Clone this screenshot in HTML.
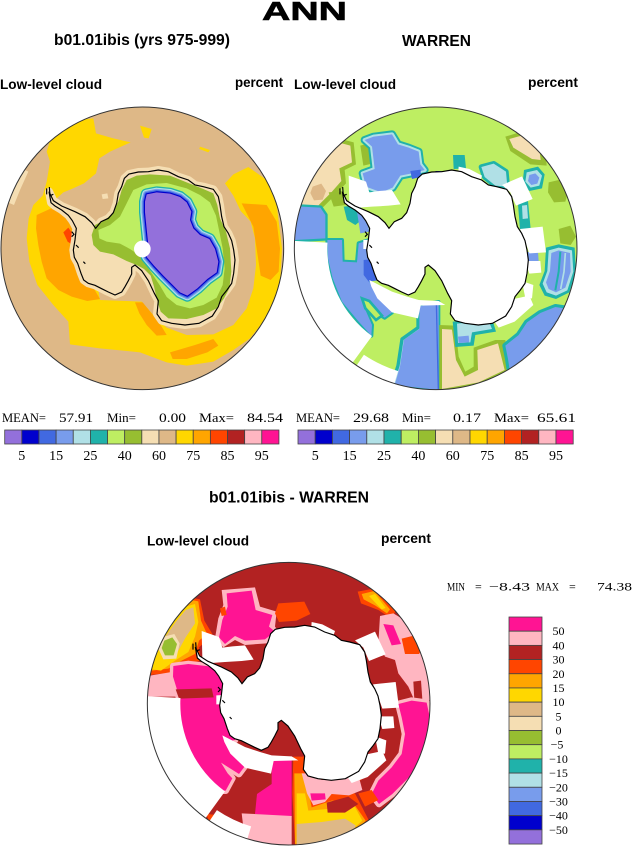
<!DOCTYPE html>
<html><head><meta charset="utf-8"><style>html,body{margin:0;padding:0;background:#fff;}svg{display:block;}</style></head>
<body>
<svg width="632" height="848" viewBox="0 0 632 848" xmlns="http://www.w3.org/2000/svg">
<defs>
<path id="coast" d="M147,260 L160,287 L185,303 L225,320 L255,335 L275,353 L287,370 L303,350 L325,340 L340,323 L350,295 L355,265 L365,245 L373,220 L387,207 L415,201 L445,200 L475,195 L505,200 L535,215 L565,225 L585,240 L610,245 L640,253 L655,275 L660,300 L665,335 L672,365 L685,385 L695,407 L701,435 L705,465 L701,505 L695,535 L681,555 L665,575 L655,605 L637,633 L597,655 L555,660 L515,655 L485,647 L471,627 L475,587 L463,565 L445,527 L425,497 L405,480 L395,487 L395,507 L385,527 L375,545 L365,561 L345,570 L325,561 L305,551 L285,541 L265,535 L251,525 L243,505 L233,475 L223,457 L220,435 L225,405 L229,370 L217,347 L205,331 L185,315 L165,303 L153,293 Z"/>
<path id="isl" d="M140,250 L140,268 M148,246 L150,272 L160,268 M215,380 L222,388 L215,395 M228,420 L236,428 M250,470 L256,476"/>
<polygon id="pur" points="440,268 470,262 510,266 540,276 560,292 574,320 570,345 580,370 600,390 628,402 645,432 655,470 650,502 622,522 592,550 562,572 540,562 520,542 490,512 462,482 440,456 445,420 440,372 435,322 435,290"/>
<clipPath id="cL"><circle cx="427" cy="430" r="424"/></clipPath>
<clipPath id="cR"><circle cx="431" cy="430" r="424"/></clipPath>
<clipPath id="cB"><circle cx="431" cy="431" r="424"/></clipPath>
<g id="wm">
<path d="M106.4,413 L1.6,407.5 A430,430 0 0 0 178.3,777.9 L240,693 A325,325 0 0 1 106.4,413 Z"/>
<path d="M215.7,749.2 L190.5,786.5 A430,430 0 0 0 305.3,841.2 L318.4,798.2 A385,385 0 0 1 215.7,749.2 Z"/>
<polygon points="170,212 222,230 232,262 262,258 300,255 326,298 290,302 240,305 200,308 172,292"/>
<polygon points="500,185 532,192 570,212 562,236 520,226 498,214"/>
<polygon points="630,240 690,214 722,282 672,302 655,262"/>
<polygon points="684,372 752,365 762,442 712,445 700,410"/>
<polygon points="700,468 745,468 748,503 712,506"/>
<polygon points="690,528 724,540 720,580 700,580"/>
<polygon points="590,598 712,572 724,600 668,650 620,668 600,640"/>
<polygon points="214,405 274,402 274,432 214,432"/>
<polygon points="232,525 300,560 345,575 380,585 440,588 460,600 386,602 378,640 300,622 256,580 238,545"/>
<use href="#coast" transform="translate(4,0)"/>
</g>
</defs>

<!-- Titles -->
<g font-family="'Liberation Sans', Arial, sans-serif" font-weight="bold" fill="#000">
<text x="262" y="20" font-size="26" textLength="85" lengthAdjust="spacingAndGlyphs" stroke="#000" stroke-width="0.6">ANN</text>
<text x="54" y="45" font-size="16" textLength="176" lengthAdjust="spacingAndGlyphs">b01.01ibis (yrs 975-999)</text>
<text x="402" y="46" font-size="16" textLength="69" lengthAdjust="spacingAndGlyphs">WARREN</text>
<text x="0" y="89" font-size="14" textLength="102" lengthAdjust="spacingAndGlyphs">Low-level cloud</text>
<text x="235" y="87" font-size="14" textLength="48" lengthAdjust="spacingAndGlyphs">percent</text>
<text x="294" y="89" font-size="14" textLength="102" lengthAdjust="spacingAndGlyphs">Low-level cloud</text>
<text x="528" y="87" font-size="14" textLength="50" lengthAdjust="spacingAndGlyphs">percent</text>
<text x="209" y="502.5" font-size="16" textLength="160" lengthAdjust="spacingAndGlyphs">b01.01ibis - WARREN</text>
<text x="147" y="545.5" font-size="14" textLength="102" lengthAdjust="spacingAndGlyphs">Low-level cloud</text>
<text x="381" y="543" font-size="14" textLength="50" lengthAdjust="spacingAndGlyphs">percent</text>
</g>

<!-- LEFT MAP -->
<g transform="translate(0,105) scale(0.333333)">
<g clip-path="url(#cL)">
<rect x="0" y="0" width="860" height="860" fill="#DEB887"/>
<polygon fill="#F5DEB3" points="18,290 35,230 65,190 85,200 60,255 42,300"/>
<polygon fill="#FFD700" points="150,108 238,45 280,40 288,85 340,100 392,112 330,140 298,160 288,205 252,235 215,252 190,262 170,280 185,320 212,345 228,380 232,430 240,470 255,505 270,532 295,555 300,585 380,588 425,590 460,630 500,668 560,690 640,688 700,660 740,610 760,550 768,480 765,400 752,350 722,318 700,272 675,235 700,208 745,186 800,225 830,300 846,430 840,540 820,600 790,650 750,700 700,735 640,770 560,782 500,772 420,742 300,730 210,718 205,650 160,600 112,540 88,470 80,400 86,340 100,300 128,272 140,230 150,170 140,140"/>
<polygon fill="#FFD700" points="420,62 455,72 446,100 432,98"/>
<polygon fill="#FFD700" points="600,125 630,135 625,142 598,132"/>
<polygon fill="#F5DEB3" points="305,268 322,265 325,280 308,282"/>
<polygon fill="#FFA500" points="110,330 165,305 200,322 215,360 222,420 232,470 250,505 280,548 300,582 262,588 215,575 175,555 140,520 125,470 115,420 108,370"/>
<polygon fill="#FF4500" points="190,382 205,368 222,392 215,418 203,410"/>
<polygon fill="#FFA500" points="405,592 428,592 455,625 485,665 500,690 470,692 440,660 418,625"/>
<polygon fill="#FFA500" points="510,742 585,720 640,702 655,722 622,742 560,762 518,762"/>
<polygon fill="#FFA500" points="725,295 800,300 830,350 840,430 836,500 812,525 782,512 772,445 760,365"/>
<use href="#coast" fill="#F5DEB3" stroke="#F5DEB3" stroke-width="24" stroke-linejoin="round"/>
<polygon fill="#97BE31" points="285,360 315,345 340,323 355,290 365,255 380,225 410,212 450,208 510,212 560,232 610,252 640,265 652,300 660,340 678,380 690,430 694,500 688,550 672,580 650,610 610,630 560,642 505,640 482,620 472,588 462,545 452,512 432,492 410,480 380,468 340,448 300,440 280,420 275,390"/>
<polygon fill="#BEEE62" points="295,375 330,360 360,335 380,295 400,255 440,238 500,234 560,250 600,270 630,292 648,332 658,380 668,430 674,490 668,540 650,578 610,600 570,610 530,600 500,576 480,542 460,512 440,482 420,452 390,432 360,416 320,410 298,400"/>
<use href="#pur" fill="#20B2AA" stroke="#20B2AA" stroke-width="36" stroke-linejoin="round"/>
<use href="#pur" fill="#B0E0E6" stroke="#B0E0E6" stroke-width="28" stroke-linejoin="round"/>
<use href="#pur" fill="#789CEC" stroke="#789CEC" stroke-width="21" stroke-linejoin="round"/>
<use href="#pur" fill="#4169E1" stroke="#4169E1" stroke-width="14" stroke-linejoin="round"/>
<use href="#pur" fill="#0000CD" stroke="#0000CD" stroke-width="7" stroke-linejoin="round"/>
<use href="#pur" fill="#9370DB"/>
<circle cx="427" cy="432" r="25" fill="#fff"/>
<use href="#coast" fill="none" stroke="#000" stroke-width="3.5"/>
<use href="#isl" fill="none" stroke="#000" stroke-width="3.5"/>
</g>
<circle cx="427" cy="430" r="424" fill="none" stroke="#333" stroke-width="3"/>
</g>

<!-- RIGHT MAP -->
<g transform="translate(292,105) scale(0.333333)">
<g clip-path="url(#cR)">
<rect x="0" y="0" width="860" height="860" fill="#BEEE62"/>
<polygon fill="#97BE31" points="140,100 185,112 192,178 158,195 162,235 128,272 92,308 50,358 8,360 12,280 50,190 100,128"/>
<polygon fill="#F5DEB3" points="150,115 175,122 180,172 142,190 148,228 118,262 82,298 45,345 15,345 22,280 58,200 105,140"/>
<polygon fill="#DEB887" points="62,245 88,236 102,258 92,284 66,286 55,264"/>
<polygon fill="#97BE31" points="110,262 148,258 160,300 125,305"/>
<polygon fill="#97BE31" points="205,122 230,115 240,176 214,182"/>
<polygon fill="#97BE31" points="640,95 705,75 760,122 764,182 715,178 655,138"/>
<polygon fill="#F5DEB3" points="652,102 702,88 742,130 746,165 720,162 664,128"/>
<polygon fill="#97BE31" points="770,232 800,225 830,255 820,290 786,292 768,262"/>
<polygon fill="#97BE31" points="800,372 835,362 852,395 836,420 805,415"/>
<g stroke-linejoin="round">
<polygon fill="#20B2AA" stroke="#20B2AA" stroke-width="24" points="218,105 245,95 300,88 318,118 350,128 380,140 385,178 398,195 360,205 325,212 302,248 268,262 222,245 212,205 248,192 240,125"/>
<polygon fill="#B0E0E6" stroke="#B0E0E6" stroke-width="12" points="218,105 245,95 300,88 318,118 350,128 380,140 385,178 398,195 360,205 325,212 302,248 268,262 222,245 212,205 248,192 240,125"/>
<polygon fill="#789CEC" points="218,105 245,95 300,88 318,118 350,128 380,140 385,178 398,195 360,205 325,212 302,248 268,262 222,245 212,205 248,192 240,125"/>
</g>
<polygon fill="#4169E1" points="355,198 386,194 386,216 360,222"/>
<polygon fill="#0000CD" points="430,198 497,200 500,216 440,212"/>
<polygon fill="#20B2AA" points="483,150 518,150 522,190 485,192"/>
<polygon fill="#20B2AA" stroke="#20B2AA" stroke-width="16" stroke-linejoin="round" points="568,186 605,176 642,200 646,245 610,242 578,216"/>
<polygon fill="#B0E0E6" points="568,186 605,176 642,200 646,245 610,242 578,216"/>
<polygon fill="#4169E1" points="590,252 610,252 612,278 592,278"/>
<polygon fill="#9370DB" points="594,264 606,264 608,278 596,278"/>
<polygon fill="#20B2AA" points="696,195 738,185 758,208 750,250 712,258 692,232"/>
<polygon fill="#B0E0E6" points="704,202 735,195 750,212 742,242 716,248 700,230"/>
<polygon fill="#789CEC" points="712,210 730,205 742,218 736,236 718,240 708,228"/>
<polygon fill="#20B2AA" points="678,298 708,288 716,372 684,374"/>
<polygon fill="#B0E0E6" points="690,302 705,300 708,340 692,342"/>
<polygon fill="#20B2AA" stroke="#20B2AA" stroke-width="14" stroke-linejoin="round" points="8,352 28,305 85,308 100,330 100,400 8,405"/>
<polygon fill="#789CEC" points="8,352 28,305 85,308 100,330 100,400 8,405"/>
<polygon fill="#20B2AA" points="155,305 205,300 215,340 190,360 165,345"/>
<polygon fill="#789CEC" points="195,320 222,330 232,380 205,385"/>
<polygon fill="#20B2AA" stroke="#20B2AA" stroke-width="12" stroke-linejoin="round" points="106,405 150,405 152,470 195,472 200,415 232,405 232,530 300,622 278,638 212,596 240,660 238,692 200,650 150,590 122,520 108,460"/>
<polygon fill="#789CEC" points="106,405 150,405 152,470 195,472 200,415 232,405 232,530 300,622 278,638 212,596 240,660 238,692 200,650 150,590 122,520 108,460"/>
<polygon fill="#BEEE62" stroke="#20B2AA" stroke-width="8" points="210,580 232,588 270,632 252,645 220,610"/>
<polygon fill="#4169E1" points="215,465 262,460 265,525 230,530 215,510"/>
<polygon fill="#0000CD" points="268,470 290,475 292,510 270,505"/>
<polygon fill="#B0E0E6" stroke="#20B2AA" stroke-width="10" stroke-linejoin="round" points="378,600 440,590 440,855 300,838 318,782 330,702 378,668"/>
<polygon fill="#789CEC" points="382,604 440,594 440,855 308,840 324,784 336,704 382,672"/>
<line x1="433" y1="590" x2="439" y2="855" stroke="#4169E1" stroke-width="4"/>
<polygon fill="#97BE31" points="442,660 490,662 500,755 520,800 545,785 545,728 610,705 640,705 652,800 560,842 442,858"/>
<polygon fill="#F5DEB3" points="450,672 480,674 492,765 518,815 558,795 556,735 618,715 638,795 560,832 450,852"/>
<polygon fill="#20B2AA" points="482,650 600,640 612,680 550,690 545,722 490,726"/>
<polygon fill="#B0E0E6" points="495,656 590,648 600,672 540,682 535,712 498,714"/>
<polygon fill="#789CEC" points="498,695 530,692 532,712 500,714"/>
<polygon fill="#20B2AA" stroke="#20B2AA" stroke-width="18" stroke-linejoin="round" points="640,722 680,690 705,652 745,624 790,606 830,612 846,625 812,702 760,764 700,804 656,814 648,762"/>
<polygon fill="#789CEC" points="640,722 680,690 705,652 745,624 790,606 830,612 846,625 812,702 760,764 700,804 656,814 648,762"/>
<polygon fill="#20B2AA" points="762,428 800,418 848,428 852,500 832,562 792,582 758,572 742,540 758,498"/>
<polygon fill="#B0E0E6" points="770,436 800,428 840,436 844,500 826,556 792,572 764,562 752,536 766,498"/>
<polygon fill="#789CEC" points="778,444 800,436 834,444 836,500 820,548 792,562 770,552 762,532 774,498"/>
<polyline fill="none" stroke="#20B2AA" stroke-width="6" points="805,440 800,500 790,556"/>
<polyline fill="none" stroke="#B0E0E6" stroke-width="5" points="820,444 816,500 806,552"/>
<polygon fill="#789CEC" points="688,442 738,440 740,470 690,470"/>
<use href="#wm" fill="#fff"/>
<use href="#coast" transform="translate(4,0)" fill="none" stroke="#000" stroke-width="3.5"/>
<use href="#isl" transform="translate(4,0)" fill="none" stroke="#000" stroke-width="3.5"/>
</g>
<circle cx="431" cy="430" r="424" fill="none" stroke="#333" stroke-width="3"/>
</g>

<!-- BOTTOM MAP -->
<g transform="translate(145,560) scale(0.333333)">
<g clip-path="url(#cB)">
<rect x="0" y="0" width="860" height="870" fill="#B22222"/>
<polygon fill="#FF4500" points="135,112 165,118 178,182 202,222 182,244 162,262 168,302 122,312 82,338 12,345 20,270 58,200 108,140"/>
<polygon fill="#FFA500" points="140,120 160,124 168,182 186,222 162,242 150,282 110,302 70,326 20,332 28,270 64,206 114,146"/>
<polygon fill="#FFD700" points="122,140 150,132 160,186 150,230 130,276 90,302 48,332 22,328 30,270 60,210 96,166"/>
<polygon fill="#DEB887" points="122,150 145,142 150,190 122,232 100,272 62,288 44,272 60,232 92,186"/>
<polygon fill="#F5DEB3" points="48,232 88,222 104,250 94,296 55,298 40,266"/>
<polygon fill="#97BE31" points="58,242 82,232 96,252 86,286 60,286 50,264"/>
<polygon fill="#FFB6C1" points="8,348 80,336 96,380 100,410 8,410"/>
<g stroke-linejoin="round">
<polygon fill="#FFB6C1" stroke="#FFB6C1" stroke-width="20" points="85,318 130,312 200,320 218,345 248,370 252,420 268,470 270,540 245,545 300,618 282,642 228,608 248,640 262,655 242,692 208,692 168,642 128,572 108,500 104,420 94,382 84,350"/>
<polygon fill="#FF1493" points="85,318 130,312 200,320 218,345 248,370 252,420 268,470 270,540 245,545 300,618 282,642 228,608 248,640 262,655 242,692 208,692 168,642 128,572 108,500 104,420 94,382 84,350"/>
<polygon fill="#B22222" points="92,388 200,385 206,412 102,416"/>
<polygon fill="#FFB6C1" points="230,90 330,82 345,140 395,155 390,200 405,220 365,250 300,255 270,240 235,262 210,235 220,175 235,135"/>
<polygon fill="#FF1493" points="245,100 320,92 332,150 382,165 372,200 390,215 360,238 300,242 270,228 240,252 222,232 232,180 248,140"/>
</g>
<polygon fill="#FF4500" points="400,130 478,125 496,162 455,182 402,186 390,160"/>
<polygon fill="#FF4500" points="225,145 240,140 245,165 230,168"/>
<polygon fill="#FF4500" points="638,95 690,85 752,150 742,178 700,150 648,130"/>
<polygon fill="#FFA500" points="650,102 688,93 735,148 726,160 690,136 656,118"/>
<polygon fill="#FFD700" points="672,108 690,102 722,144 710,148"/>
<polygon fill="#FFB6C1" points="705,168 745,160 775,178 800,220 840,250 852,300 856,420 810,425 790,380 760,340 750,300 720,290 700,250"/>
<polygon fill="#FF1493" points="715,192 745,196 768,252 740,256"/>
<polygon fill="#FF4500" points="770,236 810,226 836,260 822,282 780,282"/>
<polygon fill="#B22222" points="805,365 828,362 832,418 808,420"/>
<polygon fill="#FFB6C1" stroke="#FFB6C1" stroke-width="20" stroke-linejoin="round" points="760,432 800,422 845,428 856,480 842,560 822,622 782,662 742,702 702,732 680,702 700,662 740,622 770,582 780,522 770,472"/>
<polygon fill="#FF1493" points="760,432 800,422 845,428 856,480 842,560 822,622 782,662 742,702 702,732 680,702 700,662 740,622 770,582 780,522 770,472"/>
<polygon fill="#FF4500" points="640,700 680,690 700,720 660,740"/>
<polygon fill="#FF4500" points="600,640 640,630 650,660 610,670"/>
<polygon fill="#FF4500" points="445,590 480,590 500,650 540,662 560,700 630,700 672,782 642,822 450,856 442,700"/>
<polygon fill="#FFA500" points="448,640 475,640 490,690 500,742 560,722 620,722 662,782 632,815 450,852"/>
<polygon fill="#FFD700" points="455,700 480,700 490,752 560,746 625,732 652,782 626,806 455,850"/>
<polygon fill="#DEB887" points="455,792 530,786 600,776 632,796 620,832 540,852 455,856"/>
<polygon fill="#FFB6C1" points="470,640 512,640 530,660 600,650 642,652 652,690 612,706 560,702 540,726 505,736 486,700"/>
<polygon fill="#B22222" points="545,728 610,710 640,732 600,758 548,758"/>
<polygon fill="#FF1493" points="496,700 540,700 542,718 500,722"/>
<polygon fill="#FF1493" points="380,592 440,590 440,772 330,762 336,702 380,672"/>
<polygon fill="#FFB6C1" points="290,760 440,768 440,858 300,842"/>
<polygon fill="#FF4500" points="185,762 230,766 226,782 190,780"/>
<g transform="translate(0,1)"><use href="#wm" fill="#fff"/></g>
<use href="#coast" transform="translate(4,1)" fill="none" stroke="#000" stroke-width="3.5"/>
<use href="#isl" transform="translate(4,1)" fill="none" stroke="#000" stroke-width="3.5"/>
</g>
<circle cx="431" cy="431" r="424" fill="none" stroke="#333" stroke-width="3"/>
</g>

<!-- Stats text -->
<g font-family="'Liberation Serif', 'Times New Roman', serif" font-size="13" fill="#000">
<text x="2" y="422" textLength="44" lengthAdjust="spacingAndGlyphs">MEAN=</text>
<text x="59" y="422" textLength="34" lengthAdjust="spacingAndGlyphs">57.91</text>
<text x="107" y="422">Min=</text>
<text x="159" y="422" textLength="27" lengthAdjust="spacingAndGlyphs">0.00</text>
<text x="199" y="422" textLength="35" lengthAdjust="spacingAndGlyphs">Max=</text>
<text x="247" y="422" textLength="36" lengthAdjust="spacingAndGlyphs">84.54</text>
<text x="296" y="422" textLength="44" lengthAdjust="spacingAndGlyphs">MEAN=</text>
<text x="353" y="422" textLength="36" lengthAdjust="spacingAndGlyphs">29.68</text>
<text x="402" y="422">Min=</text>
<text x="453" y="422" textLength="28" lengthAdjust="spacingAndGlyphs">0.17</text>
<text x="494" y="422" textLength="35" lengthAdjust="spacingAndGlyphs">Max=</text>
<text x="537" y="422" textLength="39" lengthAdjust="spacingAndGlyphs">65.61</text>
</g>
<g font-family="'Liberation Serif', 'Times New Roman', serif" font-size="12" fill="#000">
<text x="447" y="590.5" textLength="18" lengthAdjust="spacingAndGlyphs">MIN</text>
<text x="475" y="590.5">=</text>
<text x="489" y="590.5" textLength="41" lengthAdjust="spacingAndGlyphs">−8.43</text>
<text x="536" y="590.5" textLength="23" lengthAdjust="spacingAndGlyphs">MAX</text>
<text x="569" y="590.5">=</text>
<text x="597" y="590.5" textLength="35" lengthAdjust="spacingAndGlyphs">74.38</text>
</g>

<!-- Left colorbar -->
<g stroke="#444" stroke-width="0.8">
<rect x="4.7" y="430" width="17.14" height="14" fill="#9370DB"/>
<rect x="21.84" y="430" width="17.14" height="14" fill="#0000CD"/>
<rect x="38.98" y="430" width="17.14" height="14" fill="#4169E1"/>
<rect x="56.12" y="430" width="17.14" height="14" fill="#789CEC"/>
<rect x="73.26" y="430" width="17.14" height="14" fill="#B0E0E6"/>
<rect x="90.4" y="430" width="17.14" height="14" fill="#20B2AA"/>
<rect x="107.54" y="430" width="17.14" height="14" fill="#BEEE62"/>
<rect x="124.68" y="430" width="17.14" height="14" fill="#97BE31"/>
<rect x="141.82" y="430" width="17.14" height="14" fill="#F5DEB3"/>
<rect x="158.96" y="430" width="17.14" height="14" fill="#DEB887"/>
<rect x="176.1" y="430" width="17.14" height="14" fill="#FFD700"/>
<rect x="193.24" y="430" width="17.14" height="14" fill="#FFA500"/>
<rect x="210.38" y="430" width="17.14" height="14" fill="#FF4500"/>
<rect x="227.52" y="430" width="17.14" height="14" fill="#B22222"/>
<rect x="244.66" y="430" width="17.14" height="14" fill="#FFB6C1"/>
<rect x="261.8" y="430" width="17.14" height="14" fill="#FF1493"/>
</g>
<g stroke="#444" stroke-width="0.8">
<rect x="298" y="430" width="17.2" height="14" fill="#9370DB"/>
<rect x="315.2" y="430" width="17.2" height="14" fill="#0000CD"/>
<rect x="332.4" y="430" width="17.2" height="14" fill="#4169E1"/>
<rect x="349.6" y="430" width="17.2" height="14" fill="#789CEC"/>
<rect x="366.8" y="430" width="17.2" height="14" fill="#B0E0E6"/>
<rect x="384" y="430" width="17.2" height="14" fill="#20B2AA"/>
<rect x="401.2" y="430" width="17.2" height="14" fill="#BEEE62"/>
<rect x="418.4" y="430" width="17.2" height="14" fill="#97BE31"/>
<rect x="435.6" y="430" width="17.2" height="14" fill="#F5DEB3"/>
<rect x="452.8" y="430" width="17.2" height="14" fill="#DEB887"/>
<rect x="470" y="430" width="17.2" height="14" fill="#FFD700"/>
<rect x="487.2" y="430" width="17.2" height="14" fill="#FFA500"/>
<rect x="504.4" y="430" width="17.2" height="14" fill="#FF4500"/>
<rect x="521.6" y="430" width="17.2" height="14" fill="#B22222"/>
<rect x="538.8" y="430" width="17.2" height="14" fill="#FFB6C1"/>
<rect x="556" y="430" width="17.2" height="14" fill="#FF1493"/>
</g>
<g font-family="'Liberation Serif', 'Times New Roman', serif" font-size="14" fill="#000" text-anchor="middle">
<text x="21.8" y="460">5</text><text x="56.1" y="460">15</text><text x="90.4" y="460">25</text><text x="124.7" y="460">40</text>
<text x="159" y="460">60</text><text x="193.2" y="460">75</text><text x="227.5" y="460">85</text><text x="261.8" y="460">95</text>
<text x="315.2" y="460">5</text><text x="349.6" y="460">15</text><text x="384" y="460">25</text><text x="418.4" y="460">40</text>
<text x="452.8" y="460">60</text><text x="487.2" y="460">75</text><text x="521.6" y="460">85</text><text x="556" y="460">95</text>
</g>

<!-- Bottom colorbar -->
<g stroke="#444" stroke-width="0.8">
<rect x="509" y="617" width="33" height="14.19" fill="#FF1493"/>
<rect x="509" y="631.19" width="33" height="14.19" fill="#FFB6C1"/>
<rect x="509" y="645.38" width="33" height="14.19" fill="#B22222"/>
<rect x="509" y="659.57" width="33" height="14.19" fill="#FF4500"/>
<rect x="509" y="673.76" width="33" height="14.19" fill="#FFA500"/>
<rect x="509" y="687.95" width="33" height="14.19" fill="#FFD700"/>
<rect x="509" y="702.14" width="33" height="14.19" fill="#DEB887"/>
<rect x="509" y="716.33" width="33" height="14.19" fill="#F5DEB3"/>
<rect x="509" y="730.52" width="33" height="14.19" fill="#97BE31"/>
<rect x="509" y="744.71" width="33" height="14.19" fill="#BEEE62"/>
<rect x="509" y="758.9" width="33" height="14.19" fill="#20B2AA"/>
<rect x="509" y="773.09" width="33" height="14.19" fill="#B0E0E6"/>
<rect x="509" y="787.28" width="33" height="14.19" fill="#789CEC"/>
<rect x="509" y="801.47" width="33" height="14.19" fill="#4169E1"/>
<rect x="509" y="815.66" width="33" height="14.19" fill="#0000CD"/>
<rect x="509" y="829.85" width="33" height="14.19" fill="#9370DB"/>
</g>
<g font-family="'Liberation Serif', 'Times New Roman', serif" font-size="12" fill="#000" text-anchor="middle">
<text x="558.5" y="635.2">50</text><text x="558.5" y="649.4">40</text><text x="558.5" y="663.6">30</text>
<text x="558.5" y="677.8">20</text><text x="558.5" y="692">15</text><text x="558.5" y="706.1">10</text>
<text x="558.5" y="720.3">5</text><text x="558.5" y="734.5">0</text><text x="557" y="748.7">−5</text>
<text x="558.5" y="762.9">−10</text><text x="558.5" y="777.1">−15</text><text x="558.5" y="791.3">−20</text>
<text x="558.5" y="805.5">−30</text><text x="558.5" y="819.7">−40</text><text x="558.5" y="833.9">−50</text>
</g>
</svg>
</body></html>
